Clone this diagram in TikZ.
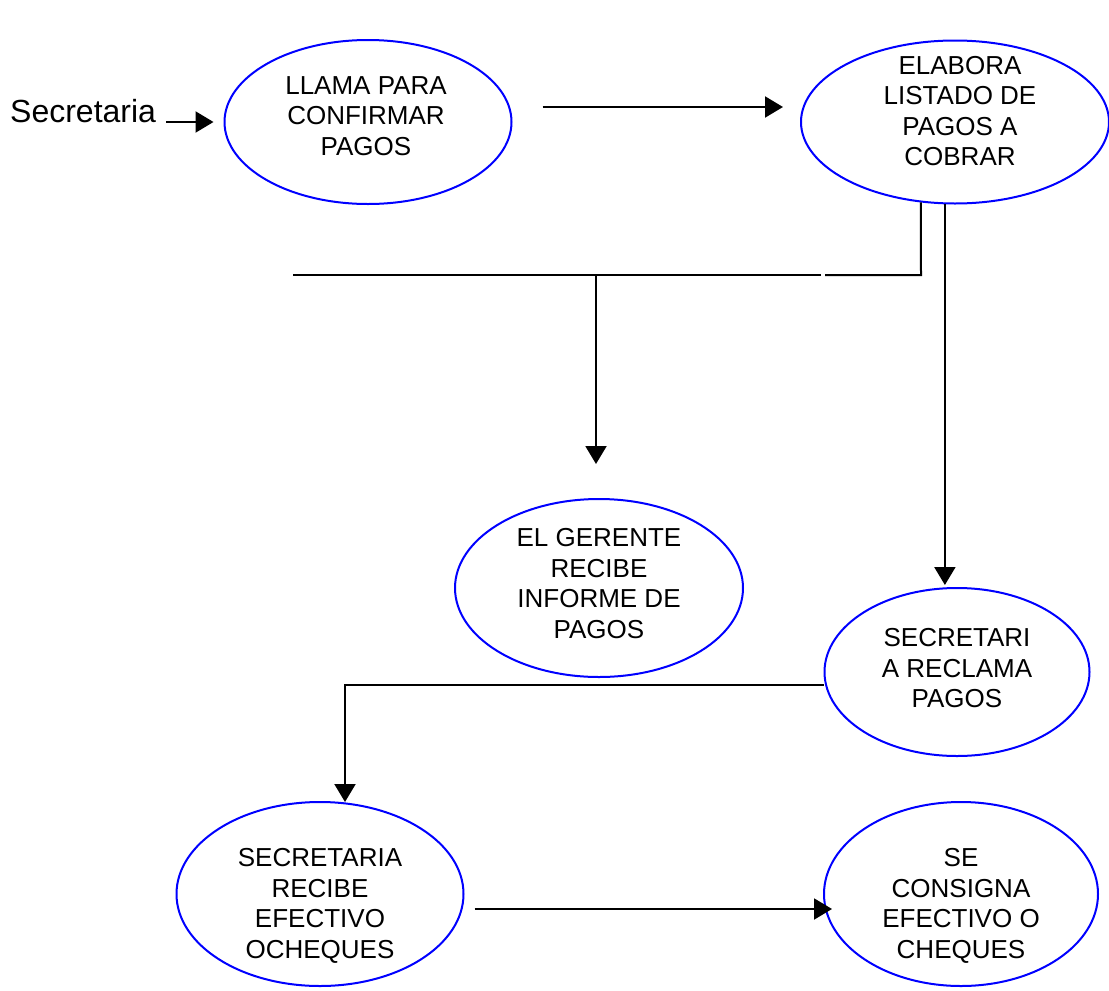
\documentclass[tikz,border=0pt]{standalone}
\usepackage{fontspec}
\setmainfont{Liberation Sans}
\usetikzlibrary{shapes.geometric,arrows.meta,calc}
\begin{document}
\begin{tikzpicture}[x=1pt,y=-1pt,
  proc/.style={ellipse,draw={rgb,255:red,0;green,0;blue,255},line width=2pt,inner sep=0pt},
  lbl/.style={align=center,inner sep=0pt,font=\fontsize{26}{30.5}\selectfont},
  conn/.style={line width=2pt,draw=black},
  arr/.style={conn,-{Triangle[length=18pt,width=21pt]}}]
\useasboundingbox (0,0) rectangle (1109,991);
\fill[white] (0,0) rectangle (1109,991);

\node[anchor=base west,inner sep=0pt,font=\fontsize{32}{36}\selectfont] (sec) at (10,122) {Secretaria};

\node[proc,minimum width=287pt,minimum height=164pt] (e1) at (368,122) {};
\node[lbl] (t1) at ([shift={(-2,-6)}]e1.center) {LLAMA PARA\\CONFIRMAR\\PAGOS};

\node[proc,minimum width=308pt,minimum height=163pt] (e2) at (955,122) {};
\node[lbl] (t2) at ([shift={(5,-11)}]e2.center) {ELABORA\\LISTADO DE\\PAGOS A\\COBRAR};

\node[proc,minimum width=288pt,minimum height=178pt] (e3) at (599,588) {};
\node[lbl] (t3) at ([shift={(0,-4.5)}]e3.center) {EL GERENTE\\RECIBE\\INFORME DE\\PAGOS};

\node[proc,minimum width=265pt,minimum height=168pt] (e4) at (957,672) {};
\node[lbl] (t4) at ([shift={(0,-3.5)}]e4.center) {SECRETARI\\A RECLAMA\\PAGOS};

\node[proc,minimum width=287pt,minimum height=184pt] (e5) at (320,894) {};
\node[lbl] (t5) at ([shift={(0,12)}]e5.center) {SECRETARIA\\RECIBE\\EFECTIVO\\OCHEQUES};

\node[proc,minimum width=274pt,minimum height=184pt] (e6) at (961,894) {};
\node[lbl] (t6) at ([shift={(0,12)}]e6.center) {SE\\CONSIGNA\\EFECTIVO O\\CHEQUES};

% Secretaria -> e1
\coordinate (s0) at (166,122);
\draw[arr,shorten >=10pt] (s0) -- (e1.west);

% e1 -> e2
\draw[arr,shorten <=30pt,shorten >=17pt] ([yshift=15pt]e1.east) -- ([yshift=15pt]e2.west);

% e2 -> branch line
\coordinate (bend) at (921,275);
\coordinate (gapR) at (825,275);
\coordinate (gapL) at (821,275);
\coordinate (bl) at (293,275);
\coordinate (j1) at (596,275);
\draw[conn] (e2.247) -- (bend) -- (gapR);
\draw[conn] (gapL) -- (bl);
\draw[arr,shorten >=34pt] (j1) -- (j1 |- e3.north);

% e2 -> e4
\draw[arr,shorten >=2pt] (e2.263) -- (e2.263 |- e4.north);

% e4 -> e5
\draw[arr] ([yshift=-13pt]e4.west) -| ([xshift=25pt,yshift=-1pt]e5.north);

% e5 -> e6
\draw[arr,shorten <=10pt,shorten >=-9pt] ([yshift=-15pt]e5.east) -- ([yshift=-15pt]e6.west);
\end{tikzpicture}
\end{document}
